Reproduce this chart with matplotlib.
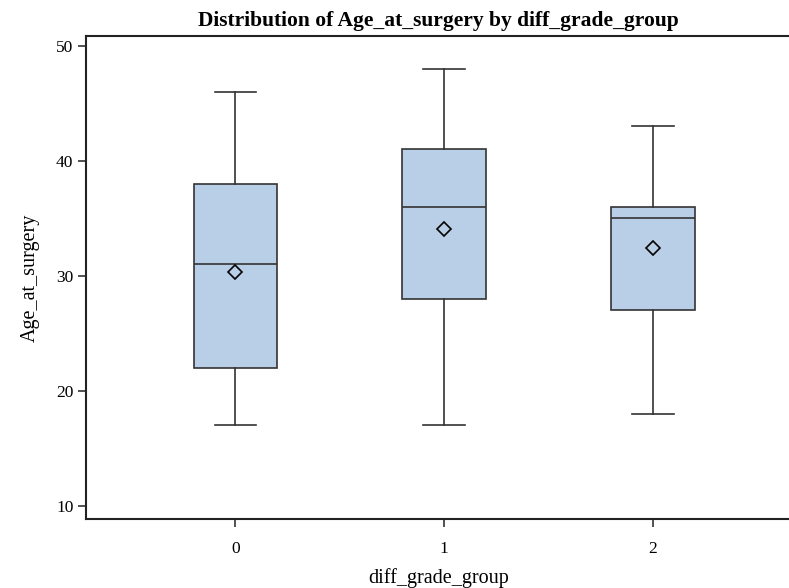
import matplotlib
matplotlib.use("Agg")
import matplotlib.pyplot as plt

groups = ["0", "1", "2"]
whislo = [17, 17, 18]
q1 = [22, 28, 27]
med = [31, 36, 35]
q3 = [38, 41, 36]
whishi = [46, 48, 43]
means = [30.3, 34.1, 32.4]
yticks = [10, 20, 30, 40, 50]

plt.rcParams['font.family'] = ['Liberation Serif', 'DejaVu Serif']

fig = plt.figure(figsize=(7.89, 5.88), dpi=100)
ax = fig.add_axes([86/789, 69/588, 1 - 86/789 + 0.002, (519-36)/588])

stats = []
for i, g in enumerate(groups):
    stats.append(dict(label=g, whislo=whislo[i], q1=q1[i], med=med[i], q3=q3[i],
                      whishi=whishi[i], mean=means[i], fliers=[]))

edge = '#333333'
ax.bxp(stats, positions=range(len(groups)), widths=0.4, patch_artist=True,
       showmeans=True, showfliers=False,
       boxprops=dict(facecolor='#B9CFE7', edgecolor=edge, linewidth=1.2),
       medianprops=dict(color=edge, linewidth=1.2),
       whiskerprops=dict(color=edge, linewidth=1.2),
       capprops=dict(color=edge, linewidth=1.2),
       capwidths=0.2,
       meanprops=dict(marker='D', markerfacecolor='none', markeredgecolor='black',
                      markersize=7, markeredgewidth=1.2))

ax.set_xlim(-0.716, 2.66)
ax.set_ylim(8.87, 50.85)
ax.set_yticks(yticks)
ax.set_xticks(range(len(groups)))
ax.set_xticklabels(groups)
ax.tick_params(axis='both', direction='out', length=6, width=1.2, labelsize=12.5, color='#333333')
ax.tick_params(axis='x', pad=10)
ax.tick_params(axis='y', pad=3)
for s in ['left', 'bottom', 'top']:
    ax.spines[s].set_linewidth(1.5)
    ax.spines[s].set_color('#222222')
ax.spines['right'].set_visible(False)

ax.set_title("Distribution of Age_at_surgery by diff_grade_group", fontsize=15.5,
             fontweight='bold', pad=7)
ax.set_xlabel("diff_grade_group", fontsize=14.5, labelpad=8)
ax.set_ylabel("Age_at_surgery", fontsize=14.5, labelpad=12)

fig.savefig("out.png", dpi=100)
